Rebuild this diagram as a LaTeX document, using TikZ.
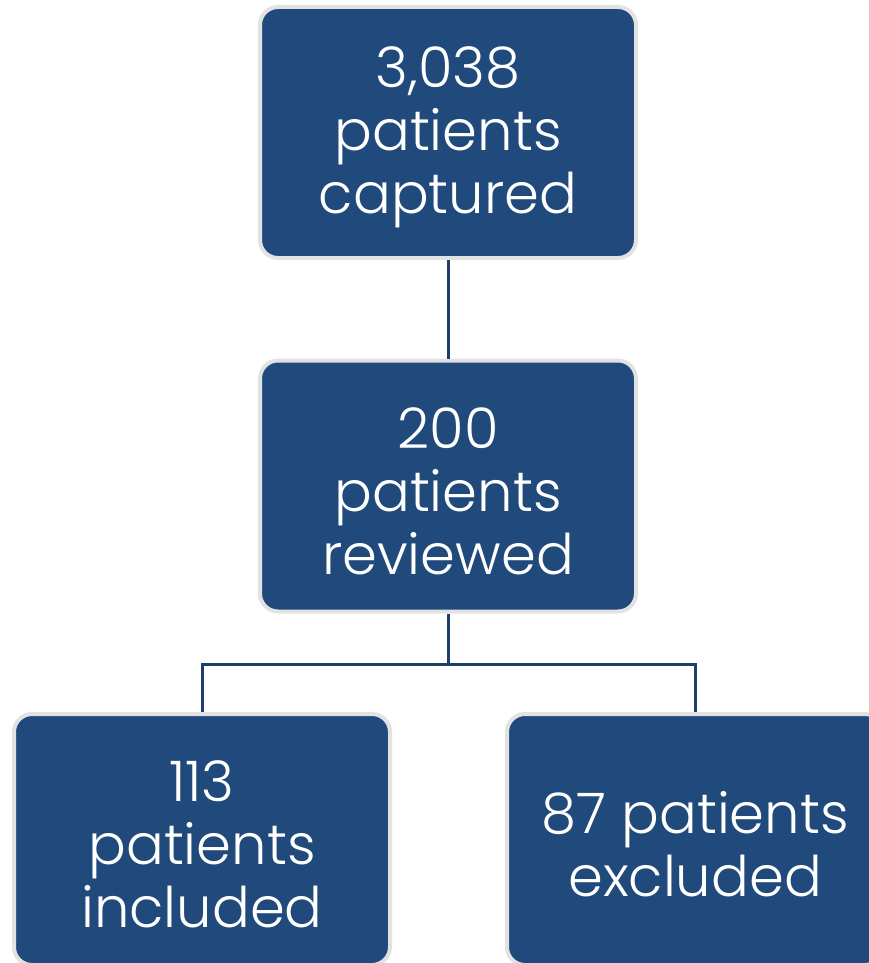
\documentclass[tikz,border=0pt]{standalone}
\usepackage{fontspec}
\setmainfont{Poppins Light}
\definecolor{boxblue}{RGB}{33,74,124}
\definecolor{lineblue}{RGB}{30,62,108}
\definecolor{rimgray}{RGB}{226,226,226}
\begin{document}
\begin{tikzpicture}[x=1pt,y=-1pt,
  flowbox/.style={rectangle, rounded corners=18pt, fill=boxblue, draw=rimgray,
    line width=4pt, minimum width=376pt, minimum height=251pt, inner sep=0pt},
  boxtext/.style={inner sep=0pt, align=center, text=white,
    font=\fontsize{56}{63}\selectfont, yshift=-5pt},
  link/.style={draw=lineblue, line width=3pt}]
\useasboundingbox (0,0) rectangle (869,963);
\fill[white] (0,0) rectangle (869,963);
\node[flowbox] (top) at (448,132.5) {};
\node[flowbox] (mid) at (448,486) {};
\node[flowbox] (bl) at (202,839.5) {};
\node[flowbox] (br) at (695,839.5) {};
\node[boxtext] (toptext) at (top.center) {3,038\\patients\\captured};
\node[boxtext] (midtext) at (mid.center) {200\\patients\\reviewed};
\node[boxtext] (bltext) at (bl.center) {113\\patients\\included};
\node[boxtext] (brtext) at (br.center) {87 patients\\excluded};
\draw[link] (top.south) -- (mid.north);
\draw[link] (mid.south) -- ++(0,51) coordinate (split) -| (bl.north);
\draw[link] (split) -| (br.north);
\end{tikzpicture}
\end{document}
